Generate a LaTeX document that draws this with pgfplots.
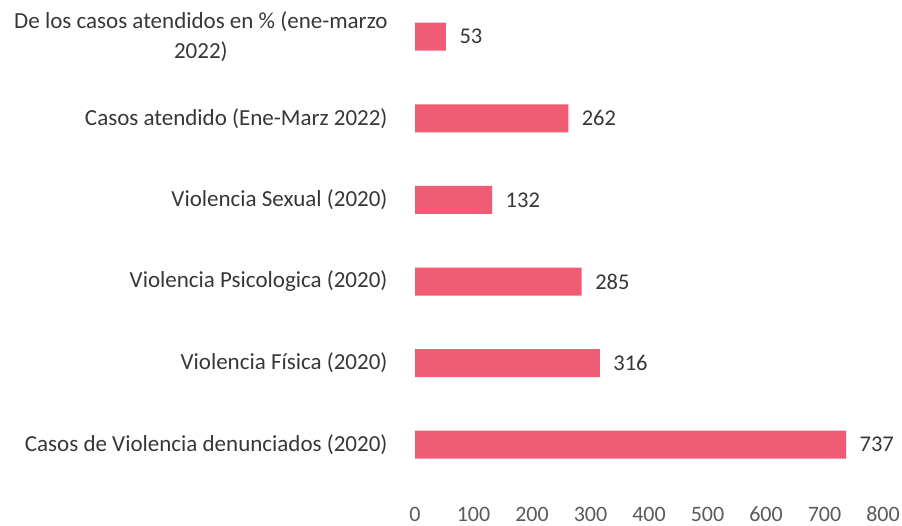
\documentclass[border=0pt]{standalone}
\usepackage{pgfplots}
\pgfplotsset{compat=1.18}
\usepackage{fontspec}
\setmainfont{Carlito}
\definecolor{barc}{RGB}{241,92,117}
\definecolor{txt}{RGB}{55,55,55}
\definecolor{tck}{RGB}{90,90,90}
\begin{document}
\begin{tikzpicture}
\useasboundingbox (-415pt,-32.3pt) rectangle (487pt,493.7pt);
\begin{axis}[
  at={(0,0)}, anchor=south west,
  scale only axis,
  width=468pt, height=493.7pt,
  xbar, bar width=28pt,
  xmin=0, xmax=800,
  ymin=-0.6, ymax=5.45,
  xtick={0,100,...,800},
  ytick={0,1,2,3,4,5},
  yticklabels={Casos de Violencia denunciados (2020),Violencia Física (2020),Violencia Psicologica (2020),Violencia Sexual (2020),Casos atendido (Ene-Marz 2022),{De los casos atendidos en \% (ene-marzo\\2022)}},
  axis line style={draw=none},
  tick style={draw=none},
  /pgf/number format/assume math mode=true,
  yticklabel style={font=\fontsize{23}{30}\selectfont, text=txt, align=center, inner sep=0pt, xshift=-23pt},
  xticklabel style={font=\fontsize{22}{26}\selectfont, text=tck, inner sep=0pt, yshift=-13pt},
  nodes near coords,
  every node near coord/.append style={font=\fontsize{22.5}{26}\selectfont, text=txt, anchor=west, xshift=10pt},
]
\addplot[draw=none, fill=barc] coordinates {(737,0) (316,1) (285,2) (132,3) (262,4) (53,5)};
\end{axis}
\end{tikzpicture}
\end{document}
